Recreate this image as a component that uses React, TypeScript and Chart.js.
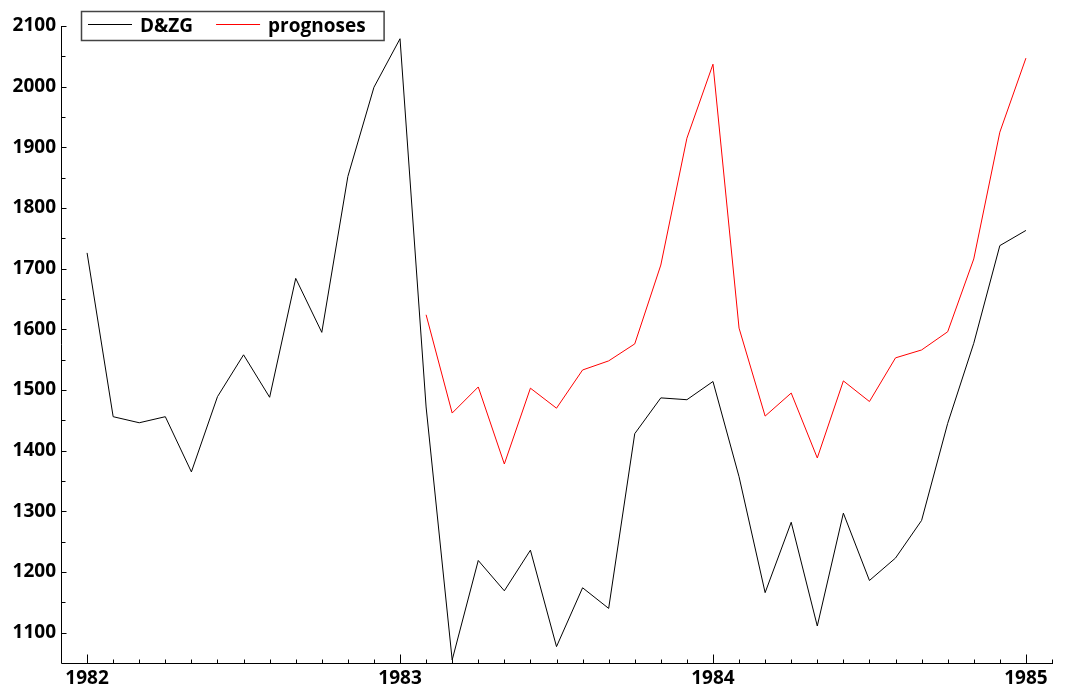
import React, { useEffect, useRef } from "react";
import { Chart, registerables } from "chart.js";

Chart.register(...registerables);

// ---- data ----
const startYear = 1982;
const forecastOffset = 13; // forecast starts 13 months after January 1982
const seriesLabels = ["D&ZG", "prognoses"];
const seriesColors = ["#000000", "#ff0000"];
const dzgValues = [
  1726, 1456, 1446, 1456, 1365, 1489, 1558, 1488, 1684, 1595, 1852, 1999,
  2079, 1472, 1055, 1219, 1169, 1236, 1077, 1174, 1140, 1428, 1487, 1484,
  1514, 1357, 1166, 1282, 1111, 1297, 1186, 1223, 1285, 1445, 1577, 1738,
  1763,
];
const prognoseValues = [
  1624, 1462, 1505, 1378, 1503, 1470, 1533, 1548, 1576, 1706, 1915,
  2037, 1602, 1457, 1495, 1388, 1515, 1481, 1553, 1566, 1596, 1716, 1925,
  2047,
];
const yearTicks = [1982, 1983, 1984, 1985];
const yTicks = [1100, 1200, 1300, 1400, 1500, 1600, 1700, 1800, 1900, 2000, 2100];
const yMin = 1050;
const yMax = 2100;

const FONT_FAMILY = '"Open Sans", "DejaVu Sans", sans-serif';
const FONT_SIZE = 19;

const toYear = (monthIndex: number) => startYear + monthIndex / 12;

const axisPlugin = {
  id: "axisTicks",
  afterDraw(chart: any) {
    const ctx = chart.ctx;
    const xs = chart.scales.x;
    const ys = chart.scales.y;
    const area = chart.chartArea;
    const left = Math.round(area.left) + 0.5;
    const bottom = Math.round(area.bottom) + 0.5;
    ctx.save();
    ctx.strokeStyle = "#000";
    ctx.lineWidth = 1;
    ctx.beginPath();
    // axis lines
    ctx.moveTo(left, Math.round(area.top));
    ctx.lineTo(left, bottom);
    ctx.lineTo(Math.round(area.right) + 1, bottom);
    // y ticks (major + minor), inward
    yTicks.forEach((v) => {
      const y = Math.round(ys.getPixelForValue(v)) + 0.5;
      ctx.moveTo(left, y);
      ctx.lineTo(left + 5, y);
      const ym = Math.round(ys.getPixelForValue(v - 50)) + 0.5;
      if (v - 50 > yMin) {
        ctx.moveTo(left, ym);
        ctx.lineTo(left + 4, ym);
      }
    });
    // x ticks: monthly minor, yearly major, inward
    for (let m = 0; m <= (yearTicks[yearTicks.length - 1] - startYear) * 12 + 1; m++) {
      const x = Math.round(xs.getPixelForValue(toYear(m))) + 0.5;
      const len = m % 12 === 0 ? 9 : 4;
      ctx.moveTo(x, bottom);
      ctx.lineTo(x, bottom - len);
    }
    ctx.stroke();
    ctx.restore();
  },
};

const legendPlugin = {
  id: "boxLegend",
  afterDraw(chart: any) {
    const ctx = chart.ctx;
    const area = chart.chartArea;
    ctx.save();
    ctx.font = `bold ${FONT_SIZE}px ${FONT_FAMILY}`;
    const boxLeft = Math.round(area.left) + 20;
    const boxTop = 11;
    const boxH = 29;
    const lineLen = 44;
    const padL = 7;
    const gapLT = 8;
    const gapItems = 23;
    const padR = 18;
    let x = boxLeft + padL;
    const items = chart.data.datasets.map((ds: any) => {
      const w = ctx.measureText(ds.label).width;
      const item = { x, w, label: ds.label, color: ds.borderColor };
      x += lineLen + gapLT + w + gapItems;
      return item;
    });
    const boxRight = x - gapItems + padR;
    ctx.fillStyle = "#fff";
    ctx.fillRect(boxLeft, boxTop, boxRight - boxLeft, boxH);
    ctx.strokeStyle = "#444";
    ctx.lineWidth = 1.5;
    ctx.strokeRect(boxLeft + 0.5, boxTop + 0.5, boxRight - boxLeft, boxH);
    const lineY = boxTop + 13.5;
    items.forEach((it: any) => {
      ctx.strokeStyle = it.color;
      ctx.lineWidth = 1;
      ctx.beginPath();
      ctx.moveTo(it.x, lineY);
      ctx.lineTo(it.x + lineLen, lineY);
      ctx.stroke();
      ctx.fillStyle = "#000";
      ctx.textBaseline = "alphabetic";
      ctx.textAlign = "left";
      ctx.fillText(it.label, it.x + lineLen + gapLT, boxTop + 21);
    });
    ctx.restore();
  },
};

export default function App() {
  const canvasRef = useRef<HTMLCanvasElement | null>(null);

  useEffect(() => {
    document.body.style.margin = "0";
    const canvas = canvasRef.current;
    if (!canvas) return;
    const chart = new Chart(canvas, {
      type: "line",
      data: {
        datasets: [
          {
            label: seriesLabels[0],
            data: dzgValues.map((v, i) => ({ x: toYear(i), y: v })),
            borderColor: seriesColors[0],
            backgroundColor: seriesColors[0],
            borderWidth: 1,
            pointRadius: 0,
            tension: 0,
            fill: false,
          },
          {
            label: seriesLabels[1],
            data: prognoseValues.map((v, i) => ({ x: toYear(i + forecastOffset), y: v })),
            borderColor: seriesColors[1],
            backgroundColor: seriesColors[1],
            borderWidth: 1,
            pointRadius: 0,
            tension: 0,
            fill: false,
          },
        ],
      },
      options: {
        animation: false,
        responsive: false,
        devicePixelRatio: 1,
        layout: { padding: { top: 26, right: 13, left: 0, bottom: 0 } },
        plugins: {
          legend: { display: false },
          tooltip: { enabled: false },
        },
        scales: {
          x: {
            type: "linear",
            min: toYear(-1),
            max: toYear((yearTicks[yearTicks.length - 1] - startYear) * 12 + 1),
            grid: { display: false, drawTicks: false },
            border: { display: false },
            afterBuildTicks: (scale: any) => {
              scale.ticks = yearTicks.map((v) => ({ value: v }));
            },
            afterFit: (scale: any) => {
              scale.height = 26;
            },
            ticks: {
              autoSkip: false,
              maxRotation: 0,
              padding: 4,
              color: "#000",
              font: { family: FONT_FAMILY, size: FONT_SIZE, weight: "bold" },
              callback: (v: any) => String(Math.round(Number(v))),
            },
          },
          y: {
            type: "linear",
            min: yMin,
            max: yMax,
            grid: { display: false, drawTicks: false },
            border: { display: false },
            afterBuildTicks: (scale: any) => {
              scale.ticks = yTicks.map((v) => ({ value: v }));
            },
            afterFit: (scale: any) => {
              scale.width = 61;
            },
            ticks: {
              autoSkip: false,
              padding: 5,
              color: "#000",
              font: { family: FONT_FAMILY, size: FONT_SIZE, weight: "bold" },
              callback: (v: any) => String(v),
            },
          },
        },
      },
      plugins: [axisPlugin, legendPlugin],
    } as any);
    return () => chart.destroy();
  }, []);

  return (
    <div style={{ position: "fixed", left: 0, top: 0, width: 1065, height: 689, background: "#fff" }}>
      <canvas ref={canvasRef} width={1065} height={689} style={{ display: "block" }} />
    </div>
  );
}
